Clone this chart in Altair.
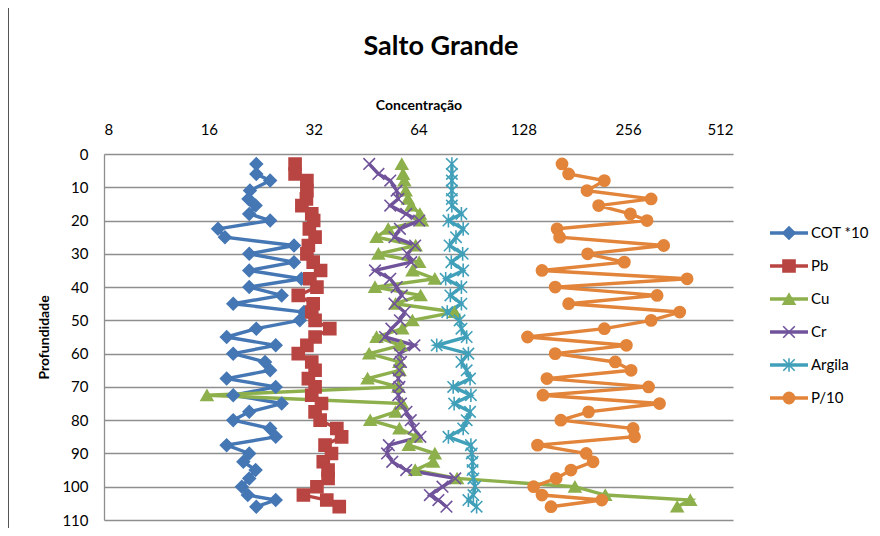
import altair as alt
import pandas as pd

depth = [3, 6, 8, 11, 13.5, 15.5, 18, 20, 22.5, 25, 27.5, 30, 32.5, 35, 37.5, 40, 42.5, 45, 47.5, 50,
         52.5, 55, 57.5, 60, 62.5, 65, 67.5, 70, 72.5, 75, 77.5, 80, 82.5, 85, 87.5, 90, 92.5, 95, 97.5,
         100, 102.5, 104, 106]

cot = [21.9, 21.9, 24.0, 21.0, 20.8, 21.8, 20.9, 24.0, 17.0, 17.8, 28.1, 20.9, 28.1, 20.9, 29.5, 20.9,
       25.9, 18.8, 30.0, 29.2, 21.9, 18.0, 24.9, 18.8, 23.2, 24.0, 18.0, 24.9, 18.8, 25.9, 20.9, 18.8,
       24.0, 24.9, 18.0, 20.9, 20.1, 21.8, 20.9, 19.9, 20.7, 24.9, 21.9]
pb = [28.3, 28.3, 30.6, 30.6, 30.5, 29.6, 31.6, 32.0, 31.1, 32.3, 30.9, 30.6, 31.9, 33.5, 31.2, 32.7,
      28.9, 31.9, 31.6, 32.3, 35.6, 32.3, 30.6, 28.9, 31.6, 32.3, 30.9, 32.3, 31.6, 33.7, 32.3, 33.4,
      37.3, 38.5, 34.5, 36.0, 34.1, 35.2, 35.2, 32.7, 29.9, 34.9, 37.9]
cu = [57.3, 57.8, 58.3, 58.8, 59.7, 61.0, 64.6, 65.5, 52.4, 48.5, 62.8, 49.1, 64.3, 61.5, 71.3, 48.0,
      64.9, 55.0, 81.3, 61.5, 57.5, 48.5, 57.0, 46.2, 56.4, 56.5, 45.7, 56.0, 15.8, 57.5, 55.0, 46.5,
      56.4, 63.0, 60.0, 71.3, 70.5, 62.6, 82.6, 180.0, 220.0, 386.0, 354.0]
cr = [46.2, 49.1, 53.1, 55.4, 56.0, 53.1, 59.0, 64.3, 56.6, 54.6, 62.6, 59.5, 61.0, 48.0, 53.1, 55.4,
      57.3, 54.6, 58.4, 56.6, 53.5, 51.3, 62.3, 56.4, 57.0, 56.4, 56.0, 56.4, 56.0, 57.0, 59.1, 60.8,
      62.0, 64.8, 52.6, 52.0, 53.8, 59.0, 81.6, 75.0, 69.0, 73.0, 77.0]
argila = [79.8, 79.8, 79.8, 79.8, 79.8, 79.8, 85.0, 78.0, 86.0, 82.0, 78.6, 85.7, 79.5, 86.0, 76.6, 85.0,
          79.0, 85.0, 77.4, 84.0, 85.0, 88.0, 72.2, 89.0, 85.0, 88.0, 90.0, 80.5, 90.5, 81.0, 90.0, 88.0,
          86.0, 78.0, 90.5, 91.0, 91.5, 91.5, 92.0, 93.0, 92.0, 89.0, 94.0]
p10 = [165.3, 172.7, 218.7, 195.0, 298.0, 210.6, 259.8, 290.0, 160.0, 162.7, 323.8, 195.8, 249.6, 144.8,
       378.0, 158.0, 310.0, 172.7, 360.0, 298.0, 218.7, 131.6, 253.0, 158.0, 235.0, 261.0, 149.6, 293.0,
       145.7, 315.0, 197.0, 164.0, 264.5, 267.0, 140.6, 194.0, 203.0, 175.4, 159.0, 137.0, 144.8, 215.0,
       153.7]

series_names = ["COT *10", "Pb", "Cu", "Cr", "Argila", "P/10"]
series_values = [cot, pb, cu, cr, argila, p10]
x_ticks = [8, 16, 32, 64, 128, 256, 512]
y_ticks = [0, 10, 20, 30, 40, 50, 60, 70, 80, 90, 100, 110]
chart_title = ["Salto Grande"]

colors = ["#4577b4", "#b84542", "#8db04c", "#70539a", "#41a0b9", "#e2843a"]
x_path = "M-1,-1L1,1M-1,1L1,-1"
star_path = "M-1,-1L1,1M-1,1L1,-1M0,-1.2L0,1.2"
shapes = ["diamond", "square", "triangle-up", x_path, star_path, "circle"]
sizes = [150, 125, 170, 140, 160, 165]

rows = []
for name, vals in zip(series_names, series_values):
    for d, v in zip(depth, vals):
        rows.append({"series": name, "depth": d, "value": v})
df = pd.DataFrame(rows)
leg = pd.DataFrame({"series": series_names})
ttl = pd.DataFrame({"t": chart_title})

FONT = "Lato"
color_scale = alt.Scale(domain=series_names, range=colors)
shape_scale = alt.Scale(domain=series_names, range=shapes)
size_scale = alt.Scale(domain=series_names, range=sizes)

x_enc = alt.X("value:Q",
              scale=alt.Scale(type="log", base=2, domain=[8, 512], nice=False),
              axis=alt.Axis(orient="top", values=x_ticks, title="Concentração", grid=False,
                            domain=False, ticks=False, tickSize=0, labelPadding=17,
                            titlePadding=10, format="d"))
y_scale = alt.Scale(domain=[0, 110], reverse=True, nice=False, zero=False)

lines = alt.Chart(df).mark_line(strokeWidth=3.4).encode(
    x=x_enc,
    y=alt.Y("depth:Q", scale=y_scale,
            axis=alt.Axis(values=y_ticks, title="Profundidade", grid=True, ticks=False,
                          tickSize=0, labelPadding=16, titlePadding=10,
                          gridColor="#8e8e8e", gridWidth=1.3,
                          domainColor="#8e8e8e", domainWidth=1.3)),
    color=alt.Color("series:N", scale=color_scale, legend=None),
    detail="series:N",
    order=alt.Order("depth:Q"),
)

points = alt.Chart(df).mark_point(filled=True, strokeWidth=1.6, opacity=1).encode(
    x=alt.X("value:Q", scale=alt.Scale(type="log", base=2, domain=[8, 512], nice=False)),
    y=alt.Y("depth:Q", scale=y_scale, axis=None),
    color=alt.Color("series:N", scale=color_scale, legend=None),
    stroke=alt.Stroke("series:N", scale=color_scale, legend=None),
    shape=alt.Shape("series:N", scale=shape_scale, legend=None),
    size=alt.Size("series:N", scale=size_scale, legend=None),
)

leg_y = alt.Y("series:N", scale=alt.Scale(type="point", domain=series_names, range=[79, 244], padding=0),
              axis=None)

leg_rule = alt.Chart(leg).mark_rule(strokeWidth=3.4).encode(
    x=alt.value(666), x2=alt.value(704), y=leg_y,
    color=alt.Color("series:N", scale=color_scale, legend=None),
)
leg_pts = alt.Chart(leg).mark_point(filled=True, strokeWidth=1.6, opacity=1).encode(
    x=alt.value(685), y=leg_y,
    color=alt.Color("series:N", scale=color_scale, legend=None),
    stroke=alt.Stroke("series:N", scale=color_scale, legend=None),
    shape=alt.Shape("series:N", scale=shape_scale, legend=None),
    size=alt.Size("series:N", scale=size_scale, legend=None),
)
leg_txt = alt.Chart(leg).mark_text(align="left", baseline="middle", font=FONT, fontSize=15,
                                   color="#000000").encode(
    x=alt.value(707), y=leg_y, text="series:N",
)

title_txt = alt.Chart(ttl).mark_text(align="center", baseline="middle", font=FONT, fontSize=27,
                                     fontWeight="bold", color="#000000").encode(
    x=alt.value(337), y=alt.value(-107), text="t:N",
)

border = alt.Chart(leg).mark_rule(color="#555555", strokeWidth=1).encode(
    x=alt.value(-95.5), y=alt.value(-154), y2=alt.value(380),
)

chart = alt.layer(lines, points, leg_rule, leg_pts, leg_txt, title_txt, border).resolve_scale(
    y="independent"
).properties(
    width=629, height=366,
    padding={"left": 96, "top": 146, "right": 139, "bottom": 8},
    autosize=alt.AutoSizeParams(type="none"),
).configure_view(stroke=None).configure_axis(
    labelFont=FONT, labelFontSize=15, labelColor="#000000",
    titleFont=FONT, titleFontSize=14, titleFontWeight="bold", titleColor="#000000",
)

chart.save("out.html", embed_options={"renderer": "svg", "actions": False})
